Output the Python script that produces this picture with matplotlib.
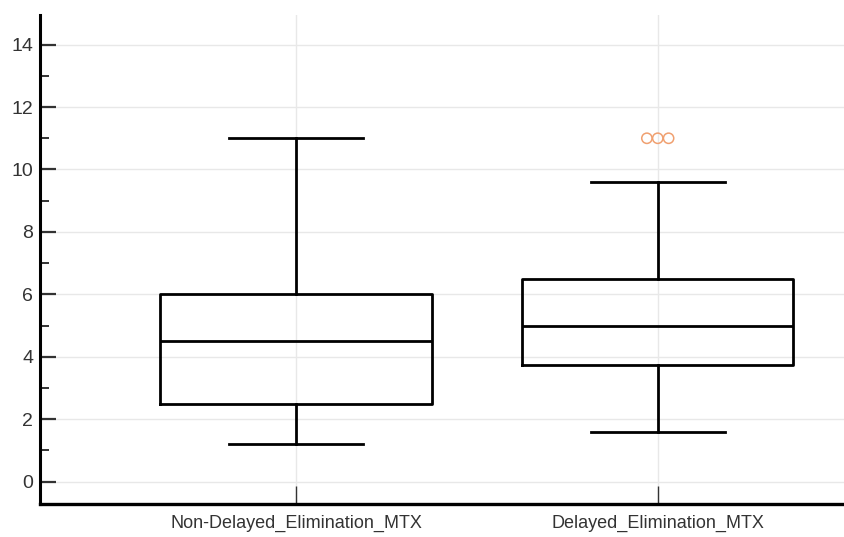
import matplotlib
matplotlib.use("Agg")
import matplotlib.pyplot as plt
from matplotlib.ticker import MultipleLocator

plt.rcParams['font.family'] = ['Liberation Sans', 'DejaVu Sans']

# data
groups = ["Non-Delayed_Elimination_MTX", "Delayed_Elimination_MTX"]
whislo = [1.2, 1.6]
q1 = [2.5, 3.75]
med = [4.5, 5.0]
q3 = [6.0, 6.5]
whishi = [11.0, 9.6]
outlier_vals = [11.0, 11.0, 11.0]   # outliers of group 2
outlier_jitter = [-0.03, 0.0, 0.03]

stats = []
for i in range(len(groups)):
    stats.append({"label": groups[i], "whislo": whislo[i], "q1": q1[i],
                  "med": med[i], "q3": q3[i], "whishi": whishi[i], "fliers": []})

fig = plt.figure(figsize=(8.44, 5.37), dpi=100)
ax = fig.add_axes([40/844, 33/537, 1 - 40/844, (504-15)/537])

pos = list(range(len(groups)))
ax.bxp(stats, positions=pos, widths=0.75, capwidths=0.37, showfliers=False,
       boxprops=dict(color="black", linewidth=2.0),
       whiskerprops=dict(color="black", linewidth=2.0),
       capprops=dict(color="black", linewidth=2.0),
       medianprops=dict(color="black", linewidth=2.0))

ax.scatter([pos[1] + j for j in outlier_jitter], outlier_vals, s=55,
           facecolors="none", edgecolors="#f0a070", linewidths=1.1, zorder=3)

ax.set_xlim(-0.708, 1.515)
ax.set_ylim(-0.72, 14.95)
ax.set_xticks(pos)
ax.set_xticklabels(groups)
ax.yaxis.set_major_locator(MultipleLocator(2))
ax.yaxis.set_minor_locator(MultipleLocator(1))

ax.grid(True, color="#e8e8e8", linewidth=1.0)
ax.set_axisbelow(True)

for s in ["top", "right"]:
    ax.spines[s].set_visible(False)
ax.spines["left"].set_linewidth(2.2)
ax.spines["bottom"].set_linewidth(2.4)

ax.tick_params(axis="y", which="major", direction="in", length=11.5, width=1.6,
               color="#333333", labelsize=14, labelcolor="#333333", pad=5)
ax.tick_params(axis="y", which="minor", direction="in", length=6.5, width=1.4, color="#333333")
ax.tick_params(axis="x", direction="in", length=13, width=1.0, color="#333333",
               labelsize=13, labelcolor="#333333", pad=8)

fig.savefig("out.png", dpi=100)
